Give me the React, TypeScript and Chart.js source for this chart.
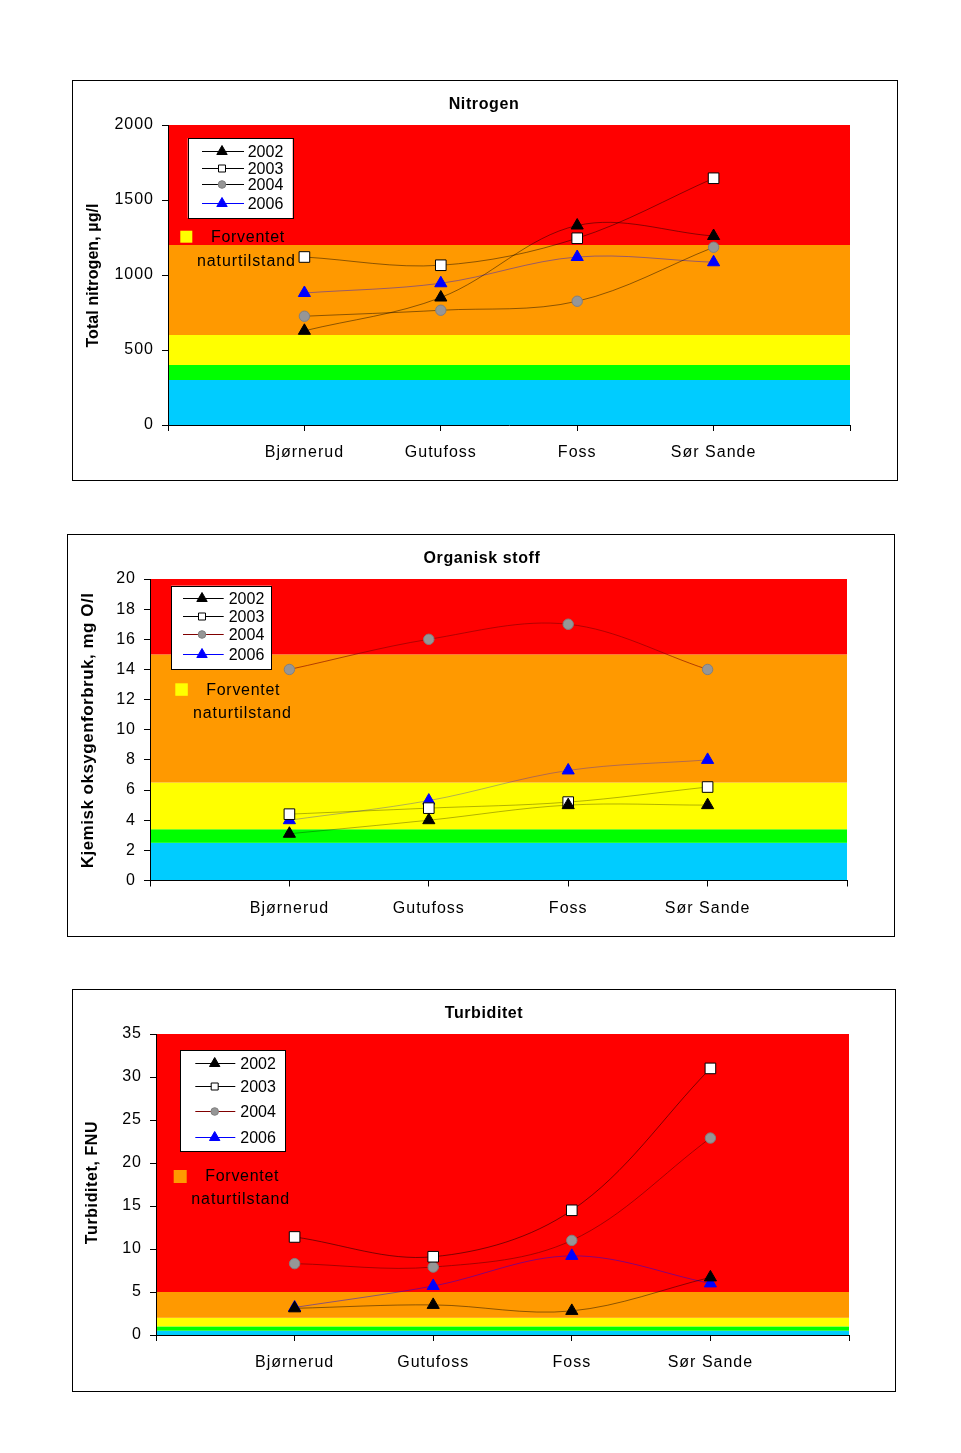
import React, { useEffect, useRef } from 'react';
import { Chart, registerables } from 'chart.js';

Chart.register(...registerables);
Chart.defaults.font.family = '"Liberation Sans", Arial, sans-serif';

// ---------- data ----------
const sites = ['Bjørnerud', 'Gutufoss', 'Foss', 'Sør Sande'];
const years = ['2002', '2003', '2004', '2006'];

const nitrogen2002 = [628, 850, 1330, 1260];
const nitrogen2003 = [1120, 1065, 1245, 1645];
const nitrogen2004 = [725, 765, 825, 1185];
const nitrogen2006 = [880, 945, 1120, 1085];
const nitrogenBands = [0, 300, 400, 600, 1200, 2000];

const organic2002 = [3.1, 4.0, 5.0, 5.0];
const organic2003 = [4.4, 4.8, 5.2, 6.2];
const organic2004 = [14, 16, 17, 14];
const organic2006 = [4.0, 5.3, 7.3, 8.0];
const organicBands = [0, 2.5, 3.4, 6.5, 15, 20];

const turbidity2002 = [3.1, 3.5, 2.8, 6.7];
const turbidity2003 = [11.4, 9.1, 14.5, 31];
const turbidity2004 = [8.3, 7.9, 11, 22.9];
const turbidity2006 = [3.2, 5.7, 9.2, 6.0];
const turbidityBands = [0, 0.5, 1, 2, 5, 35];

// ---------- styles ----------
const bandColors = ['#00ccff', '#00ff00', '#ffff00', '#ff9900', '#ff0000'];
const markerStyles = ['triangle', 'rect', 'circle', 'triangle'];
const markerRadius = [7, 7.5, 5.2, 7];
const markerFill = ['#000000', '#ffffff', '#969696', '#0000ff'];
const markerStroke = ['#000000', '#000000', '#808080', '#0000ff'];
const FONT = '"Liberation Sans", Arial, sans-serif';

interface Spec {
  frame: { x: number; y: number; w: number; h: number };
  area: { left: number; right: number; top: number; bottom: number };
  title: string;
  titleX: number;
  titleY: number;
  yTitle: string;
  yTitleX: number;
  yTitleY: number;
  yTitleSize: number;
  yTitleSpacing: number;
  yMax: number;
  yStep: number;
  bands: number[];
  series: number[][];
  lineColors: string[];
  plotLineColors: string[];
  legend: { x: number; y: number; w: number; h: number; rows: number[]; lx1: number; lx2: number; mx: number; tx: number };
  note: { sx: number; sy: number; ss: number; color: string; l1x: number; l1y: number; l2x: number; l2y: number };
}

const specs: Spec[] = [
  {
    frame: { x: 72, y: 80, w: 826, h: 401 },
    area: { left: 96, right: 778, top: 45, bottom: 345 },
    title: 'Nitrogen', titleX: 412, titleY: 29,
    yTitle: 'Total nitrogen, µg/l', yTitleX: 26, yTitleY: 195.5, yTitleSize: 16, yTitleSpacing: 0.1,
    yMax: 2000, yStep: 500,
    bands: nitrogenBands,
    series: [nitrogen2002, nitrogen2003, nitrogen2004, nitrogen2006],
    lineColors: ['#000000', '#000000', '#000000', '#0000ff'],
    plotLineColors: ['rgba(0,0,0,0.45)', 'rgba(0,0,0,0.45)', 'rgba(0,0,0,0.45)', 'rgba(0,0,255,0.4)'],
    legend: { x: 115.7, y: 58.3, w: 105, h: 79.7, rows: [70.7, 87.7, 104.3, 122.7], lx1: 130, lx2: 172, mx: 150, tx: 175.7 },
    note: { sx: 108.3, sy: 150.7, ss: 12, color: '#ffff00', l1x: 139, l1y: 161.7, l2x: 125, l2y: 185.7 },
  },
  {
    frame: { x: 67, y: 534, w: 828, h: 403 },
    area: { left: 83, right: 780, top: 45, bottom: 346.5 },
    title: 'Organisk stoff', titleX: 415, titleY: 29,
    yTitle: 'Kjemisk oksygenforbruk, mg O/l', yTitleX: 26, yTitleY: 196.5, yTitleSize: 17, yTitleSpacing: 0.5,
    yMax: 20, yStep: 2,
    bands: organicBands,
    series: [organic2002, organic2003, organic2004, organic2006],
    lineColors: ['#000000', '#000000', '#800000', '#0000ff'],
    plotLineColors: ['rgba(0,0,0,0.3)', 'rgba(0,0,0,0.3)', 'rgba(128,0,0,0.6)', 'rgba(0,0,255,0.3)'],
    legend: { x: 104.3, y: 51.7, w: 100, h: 83.3, rows: [64.3, 82, 100, 120.3], lx1: 116, lx2: 156.7, mx: 135, tx: 161.7 },
    note: { sx: 108.3, sy: 149.3, ss: 12.5, color: '#ffff00', l1x: 139.3, l1y: 161, l2x: 126, l2y: 184 },
  },
  {
    frame: { x: 72, y: 989, w: 824, h: 403 },
    area: { left: 84, right: 777, top: 45, bottom: 346 },
    title: 'Turbiditet', titleX: 412, titleY: 29,
    yTitle: 'Turbiditet, FNU', yTitleX: 25, yTitleY: 193.5, yTitleSize: 16, yTitleSpacing: 0.6,
    yMax: 35, yStep: 5,
    bands: turbidityBands,
    series: [turbidity2002, turbidity2003, turbidity2004, turbidity2006],
    lineColors: ['#000000', '#000000', '#800000', '#0000ff'],
    plotLineColors: ['rgba(0,0,0,0.45)', 'rgba(0,0,0,0.5)', 'rgba(128,0,0,0.7)', 'rgba(0,0,255,0.45)'],
    legend: { x: 108.3, y: 61, w: 105, h: 101, rows: [74.3, 96.7, 122.3, 147.7], lx1: 123.3, lx2: 163.3, mx: 142.7, tx: 168.3 },
    note: { sx: 101.7, sy: 181, ss: 13, color: '#ff9900', l1x: 133.3, l1y: 191.7, l2x: 119.3, l2y: 215.3 },
  },
];

function drawMarker(ctx: CanvasRenderingContext2D, style: string, x: number, y: number, fill: string, stroke: string) {
  ctx.save();
  ctx.fillStyle = fill;
  ctx.strokeStyle = stroke;
  ctx.lineWidth = 1;
  ctx.beginPath();
  if (style === 'triangle') {
    const r = 6;
    ctx.moveTo(x, y - r);
    ctx.lineTo(x + r * 0.866, y + r / 2);
    ctx.lineTo(x - r * 0.866, y + r / 2);
    ctx.closePath();
  } else if (style === 'rect') {
    ctx.rect(x - 3.5, y - 3.5, 7, 7);
  } else {
    ctx.arc(x, y, 3.8, 0, Math.PI * 2);
  }
  ctx.fill();
  ctx.stroke();
  ctx.restore();
}

function text(ctx: CanvasRenderingContext2D, s: string, x: number, y: number, font: string, spacing: number, align: CanvasTextAlign = 'left') {
  ctx.save();
  (ctx as any).letterSpacing = spacing + 'px';
  ctx.font = font;
  ctx.fillStyle = '#000';
  ctx.textAlign = align;
  ctx.textBaseline = 'alphabetic';
  ctx.fillText(s, x, y);
  ctx.restore();
}

function panelPlugin(spec: Spec) {
  return {
    id: 'panel',
    beforeDraw(chart: any) {
      const ctx: CanvasRenderingContext2D = chart.ctx;
      const { left, right } = chart.chartArea;
      const ys = chart.scales.y;
      ctx.save();
      ctx.fillStyle = '#ffffff';
      ctx.fillRect(0, 0, chart.width, chart.height);
      for (let i = 0; i < spec.bands.length - 1; i++) {
        const top = ys.getPixelForValue(spec.bands[i + 1]);
        const bot = ys.getPixelForValue(spec.bands[i]);
        ctx.fillStyle = bandColors[i];
        ctx.fillRect(left, top, right - left, bot - top);
      }
      ctx.restore();
      (ctx as any).letterSpacing = '1px';
    },
    afterDraw(chart: any) {
      const ctx: CanvasRenderingContext2D = chart.ctx;
      (ctx as any).letterSpacing = '0px';
      ctx.save();
      ctx.strokeStyle = '#000';
      ctx.lineWidth = 1;
      ctx.strokeRect(0.5, 0.5, chart.width - 1, chart.height - 1);
      ctx.restore();

      text(ctx, spec.title, spec.titleX, spec.titleY, `bold 16px ${FONT}`, 0.6, 'center');

      ctx.save();
      ctx.translate(spec.yTitleX, spec.yTitleY);
      ctx.rotate(-Math.PI / 2);
      text(ctx, spec.yTitle, 0, 0, `bold ${spec.yTitleSize}px ${FONT}`, spec.yTitleSpacing, 'center');
      ctx.restore();

      const lg = spec.legend;
      ctx.save();
      ctx.fillStyle = '#fff';
      ctx.fillRect(lg.x, lg.y, lg.w, lg.h);
      ctx.strokeStyle = '#000';
      ctx.lineWidth = 1;
      ctx.strokeRect(Math.round(lg.x) + 0.5, Math.round(lg.y) + 0.5, Math.round(lg.w), Math.round(lg.h));
      ctx.restore();
      chart.data.datasets.forEach((ds: any, i: number) => {
        const ry = lg.rows[i];
        ctx.save();
        ctx.strokeStyle = spec.lineColors[i];
        ctx.lineWidth = 1;
        ctx.beginPath();
        ctx.moveTo(lg.lx1, Math.round(ry) + 0.5);
        ctx.lineTo(lg.lx2, Math.round(ry) + 0.5);
        ctx.stroke();
        ctx.restore();
        drawMarker(ctx, markerStyles[i], lg.mx, Math.round(ry) + 0.5, markerFill[i], markerStroke[i]);
        text(ctx, ds.label, lg.tx, ry + 6, `16px ${FONT}`, 0);
      });

      const n = spec.note;
      ctx.save();
      ctx.fillStyle = n.color;
      ctx.fillRect(n.sx, n.sy, n.ss, n.ss);
      ctx.restore();
      text(ctx, 'Forventet', n.l1x, n.l1y, `16px ${FONT}`, 0.7);
      text(ctx, 'naturtilstand', n.l2x, n.l2y, `16px ${FONT}`, 0.9);
    },
  };
}

function Panel({ spec }: { spec: Spec }) {
  const ref = useRef<HTMLCanvasElement>(null);
  useEffect(() => {
    const canvas = ref.current;
    if (!canvas) return;
    const { w, h } = spec.frame;
    const a = spec.area;
    const chart = new Chart(canvas, {
      type: 'line',
      data: {
        datasets: years.map((yr, i) => ({
          label: yr,
          data: sites.map((_, j) => ({ x: j + 1, y: spec.series[i][j] })),
          borderColor: spec.plotLineColors[i],
          borderWidth: 1,
          tension: 0.35,
          fill: false,
          pointStyle: markerStyles[i] as any,
          pointRadius: markerRadius[i],
          pointBackgroundColor: markerFill[i],
          pointBorderColor: markerStroke[i],
          pointBorderWidth: 1,
        })),
      },
      options: {
        responsive: false,
        animation: false,
        layout: { padding: { left: 0, top: a.top, right: w - a.right, bottom: 0 } },
        plugins: { legend: { display: false }, tooltip: { enabled: false }, title: { display: false } },
        scales: {
          x: {
            type: 'linear',
            min: 0,
            max: 5,
            afterFit: (s: any) => { s.height = h - a.bottom; },
            ticks: {
              stepSize: 1,
              autoSkip: false,
              maxRotation: 0,
              color: '#000',
              font: { size: 16 },
              padding: 12,
              callback: (v: any) => sites[Number(v) - 1] ?? '',
            },
            grid: { drawOnChartArea: false, tickLength: 6, color: '#000' },
            border: { color: '#000' },
          },
          y: {
            min: 0,
            max: spec.yMax,
            afterFit: (s: any) => { s.width = a.left; },
            ticks: {
              stepSize: spec.yStep,
              color: '#000',
              font: { size: 16 },
              padding: 8,
              callback: (v: any) => String(v),
            },
            grid: { drawOnChartArea: false, tickLength: 6, color: '#000' },
            border: { color: '#000' },
          },
        },
      } as any,
      plugins: [panelPlugin(spec)],
    });
    return () => chart.destroy();
  }, [spec]);
  return (
    <canvas
      ref={ref}
      width={spec.frame.w}
      height={spec.frame.h}
      style={{ position: 'absolute', left: spec.frame.x, top: spec.frame.y, width: spec.frame.w, height: spec.frame.h }}
    />
  );
}

export default function App() {
  return (
    <div style={{ position: 'absolute', left: 0, top: 0, width: 961, height: 1453, background: '#fff' }}>
      {specs.map((s, i) => (
        <Panel key={i} spec={s} />
      ))}
    </div>
  );
}
